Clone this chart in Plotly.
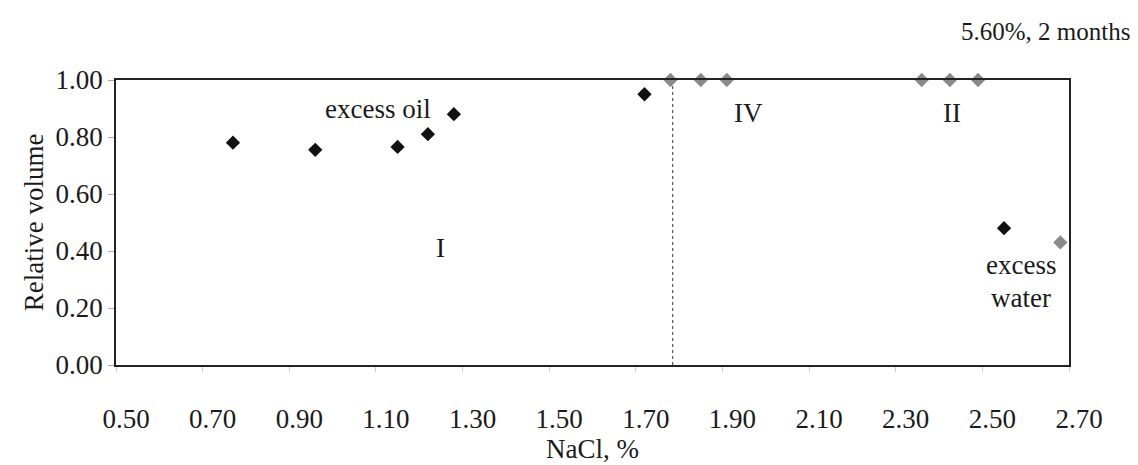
import plotly.graph_objects as go

# Data
nacl_main = [0.77, 0.96, 1.15, 1.22, 1.28, 1.72, 2.55]
vol_main = [0.78, 0.755, 0.765, 0.81, 0.88, 0.95, 0.48]

nacl_faded = [1.78, 1.85, 1.91, 2.36, 2.425, 2.49, 2.68]
vol_faded = [1.0, 1.0, 1.0, 1.0, 1.0, 1.0, 0.43]

boundary_x = 1.785
boundary_y = [0.0, 1.0]

x_ticks = [0.5, 0.7, 0.9, 1.1, 1.3, 1.5, 1.7, 1.9, 2.1, 2.3, 2.5, 2.7]
y_ticks = [0.0, 0.2, 0.4, 0.6, 0.8, 1.0]

FONT = "Liberation Serif, Times New Roman, serif"
TXT = "#1a1a1a"

fig = go.Figure()

fig.add_trace(go.Scatter(
    x=[boundary_x, boundary_x], y=boundary_y, mode="lines",
    line=dict(color="#555555", width=1.2, dash="dot"),
    hoverinfo="skip", showlegend=False))

fig.add_trace(go.Scatter(
    x=nacl_faded, y=vol_faded, mode="markers",
    marker=dict(symbol="diamond", size=11, color="#8a8a8a"),
    showlegend=False, cliponaxis=False))

fig.add_trace(go.Scatter(
    x=nacl_main, y=vol_main, mode="markers",
    marker=dict(symbol="diamond", size=11, color="#111111"),
    showlegend=False, cliponaxis=False))

annots = [
    dict(x=1.105, y=0.90, text="excess oil"),
    dict(x=1.96, y=0.885, text="IV"),
    dict(x=2.43, y=0.885, text="II"),
    dict(x=1.25, y=0.41, text="I"),
    dict(x=2.59, y=0.35, text="excess"),
    dict(x=2.59, y=0.236, text="water"),
]
for a in annots:
    fig.add_annotation(x=a["x"], y=a["y"], text=a["text"], showarrow=False,
                       xref="x", yref="y", font=dict(family=FONT, size=27, color=TXT))

fig.add_annotation(x=1.0, y=1.0, xref="paper", yref="paper", xanchor="right", yanchor="middle",
                   text="5.60%, 2 months", showarrow=False, xshift=63, yshift=49,
                   font=dict(family=FONT, size=25, color=TXT))

fig.update_layout(
    width=1130, height=457,
    margin=dict(l=108, r=69, t=72, b=93),
    paper_bgcolor="white", plot_bgcolor="white",
    font=dict(family=FONT, size=27, color=TXT),
    showlegend=False,
)
fig.update_xaxes(
    range=[0.5, 2.7], tickvals=x_ticks, ticktext=[f"{v:.2f}" for v in x_ticks],
    showgrid=False, zeroline=False, showline=True, linecolor="#222222", linewidth=1.5,
    mirror=True, ticks="outside", ticklen=5, tickcolor="#cccccc",
    ticklabelstandoff=24, ticklabelshift=10,
    title=dict(text="NaCl, %", standoff=0, font=dict(family=FONT, size=27, color=TXT)),
)
fig.update_yaxes(
    range=[0, 1.0], tickvals=y_ticks, ticktext=[f"{v:.2f}" for v in y_ticks],
    showgrid=False, zeroline=False, showline=True, linecolor="#222222", linewidth=1.5,
    mirror=True, ticks="outside", ticklen=6, tickcolor="#aaaaaa",
    title=dict(text="Relative volume", standoff=4, font=dict(family=FONT, size=27, color=TXT)),
)

fig.write_html("out.html")
